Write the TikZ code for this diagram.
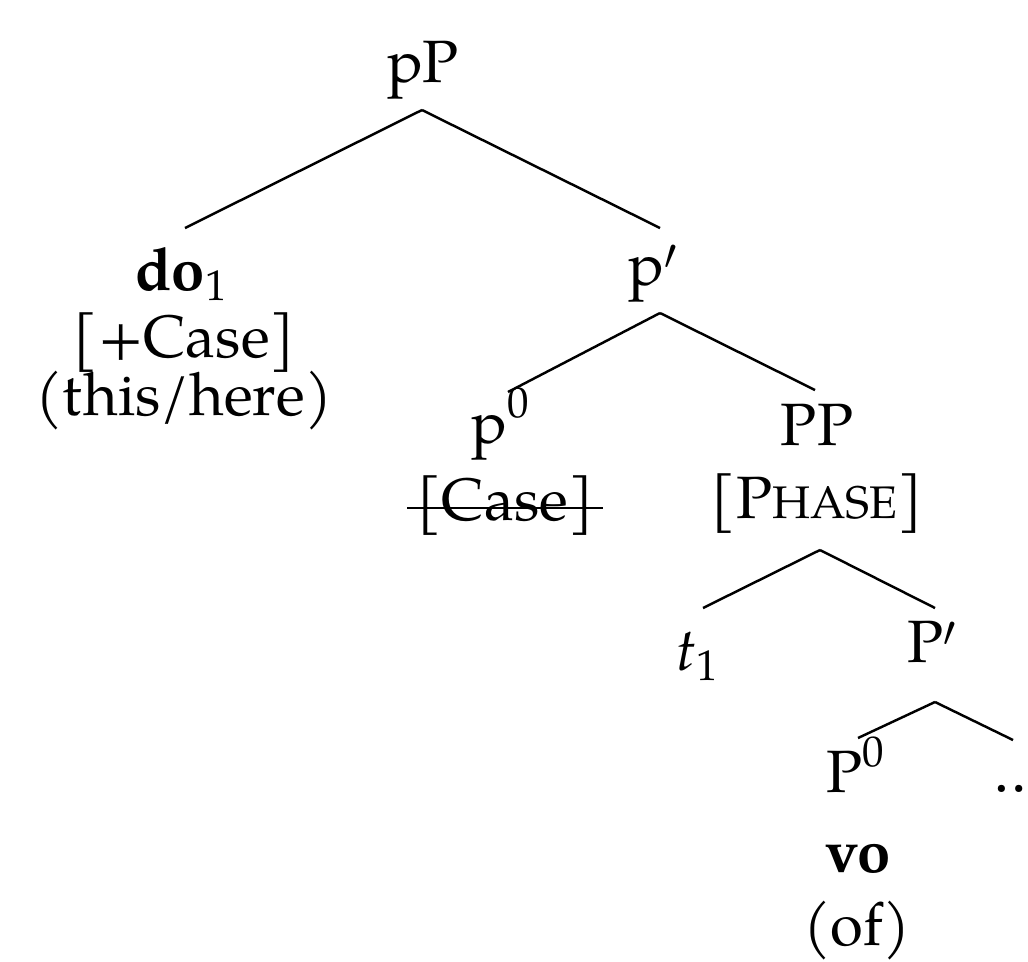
\documentclass[tikz,border=0pt]{standalone}
\usepackage{fontspec}
\setmainfont{TeX Gyre Pagella}
\newcommand\supz[1]{\raisebox{0.42em}{\scalebox{0.72}{#1}}}
\newcommand\subz[1]{\raisebox{-0.18em}{\scalebox{0.72}{#1}}}
\begin{document}
\begin{tikzpicture}[x=0.02cm,y=-0.02cm,
  lbl/.style={anchor=base,inner sep=0pt,font=\fontsize{34}{40}\selectfont},
  edge/.style={line width=1.4pt}]
\useasboundingbox (0,0) rectangle (1028,961);
\clip (0,0) rectangle (1028,961);
% nodes
\node[lbl] (pP) at (423,82) {pP};
\node[lbl] (do) at (181,290) {\textbf{do}\subz{1}};
\node[lbl] (docase) at (184,357) {[+Case]};
\node[lbl] (dogloss) at (184,415) {(this/here)};
\node[lbl] (pbar) at (653,285) {p$'$};
\node[lbl] (pzero) at (500,443) {p\supz{0}};
\node[lbl] (pcase) at (505,520) {[Case]};
\node[lbl] (PP) at (817,445) {PP};
\node[lbl] (phase) at (817,518) {[P{\fontsize{26}{30}\selectfont HASE}]};
\node[lbl] (t) at (697,670) {\textit{t}\subz{1}};
\node[lbl] (Pbar) at (932,662) {P$'$};
\node[lbl] (Pzero) at (855,792) {P\supz{0}};
\node[lbl,anchor=base west] (dots) at (993,792) {\dots};
\node[lbl] (vo) at (858,872) {\textbf{vo}};
\node[lbl] (of) at (857,945) {(of)};
% connector points
\coordinate (pPb) at (422,110);
\coordinate (dot) at (185,228);
\coordinate (pbart) at (660,228);
\coordinate (pbarb) at (660,313);
\coordinate (pzerot) at (508,392);
\coordinate (PPt) at (815,390);
\coordinate (phaseb) at (820,550);
\coordinate (tt) at (703,608);
\coordinate (Pbart) at (935,608);
\coordinate (Pbarb) at (935,702);
\coordinate (Pzerot) at (858,738);
\coordinate (dotst) at (1013,740);
% edges
\draw[edge] (pPb) -- (dot);
\draw[edge] (pPb) -- (pbart);
\draw[edge] (pbarb) -- (pzerot);
\draw[edge] (pbarb) -- (PPt);
\draw[edge] (phaseb) -- (tt);
\draw[edge] (phaseb) -- (Pbart);
\draw[edge] (Pbarb) -- (Pzerot);
\draw[edge] (Pbarb) -- (dotst);
% strike-through
\draw[line width=1.3pt] ([xshift=-5pt,yshift=7pt]pcase.base west) -- ([xshift=5pt,yshift=7pt]pcase.base east);
\end{tikzpicture}
\end{document}
